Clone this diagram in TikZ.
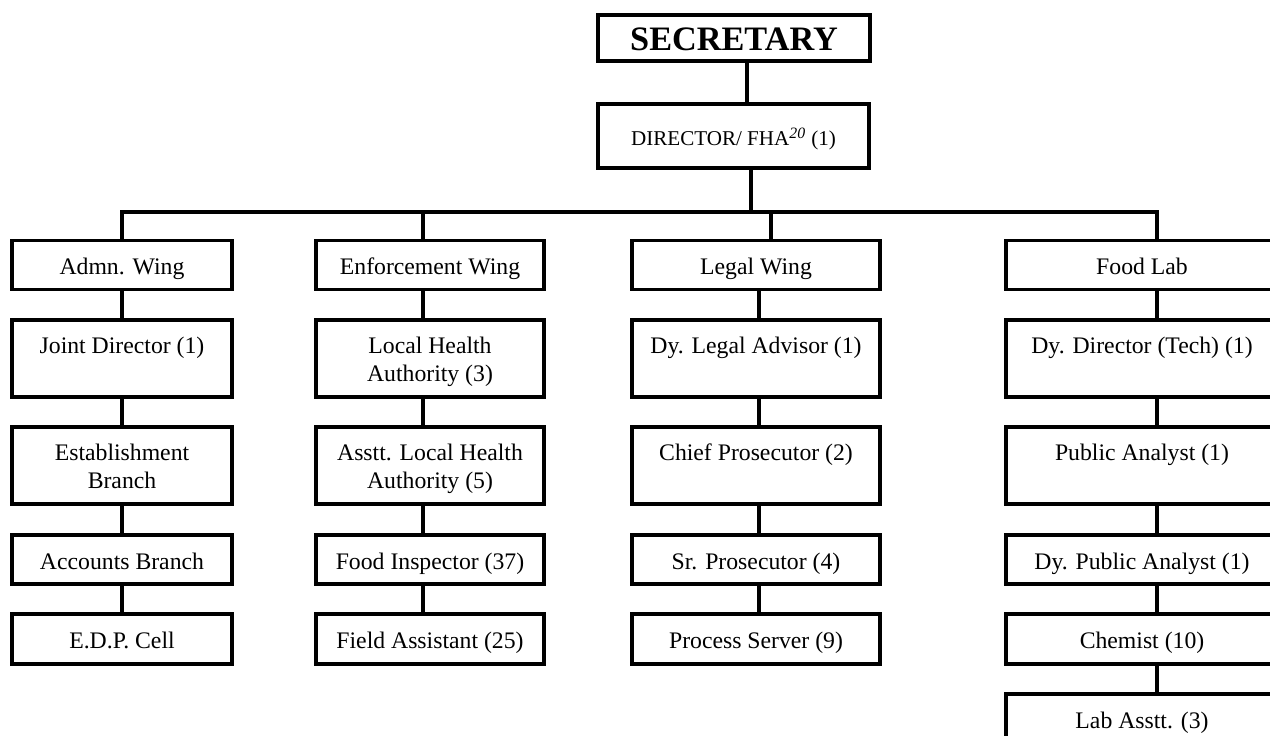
\documentclass[tikz,border=0pt]{standalone}
\usepackage{fontspec}
\setmainfont{Liberation Serif}
\begin{document}
\begin{tikzpicture}[x=0.02cm,y=-0.02cm,
  orgbox/.style={draw=black, line width=2.1pt, inner sep=0pt, align=center,
    font=\fontsize{13.5}{16}\selectfont,
    execute at begin node={\rule{0pt}{14.5pt}},
    execute at end node={\rule[-3.3pt]{0pt}{3.3pt}}},
  link/.style={line width=1.9pt},
  wa/.style={minimum width=4.4cm},
  wb/.style={minimum width=4.56cm},
  wc/.style={minimum width=4.96cm},
  wd/.style={minimum width=5.44cm},
  hs/.style={minimum height=0.98cm},
  ht/.style={minimum height=1.54cm,
    execute at begin node={\rule{0pt}{30pt}}}]
\useasboundingbox (0,0) rectangle (1270,736);

% top of the hierarchy
\node[orgbox, minimum width=5.44cm, minimum height=0.92cm,
  font=\bfseries\fontsize{19.5}{22}\selectfont,
  execute at begin node={\rule{0pt}{17pt}},
  execute at end node={\rule[-2.4pt]{0pt}{2.4pt}}] (sec) at (734,38) {SECRETARY};
\node[orgbox, minimum width=5.42cm, minimum height=1.28cm,
  font=\fontsize{12}{14}\selectfont,
  execute at begin node={\rule{0pt}{13.8pt}},
  execute at end node={\rule[-3pt]{0pt}{3pt}}] (dir) at (733.5,136)
  {DIRECTOR/ FHA\textsuperscript{\itshape\fontsize{9}{9}\selectfont 20} (1)};

% Admn. Wing column
\node[orgbox, wa, hs] (a1) at (122,265) {Admn. Wing};
\node[orgbox, wa, ht] (a2) at (122,358.5) {Joint Director (1)\\\mbox{}};
\node[orgbox, wa, ht] (a3) at (122,465.5) {Establishment\\Branch};
\node[orgbox, wa, hs] (a4) at (122,559.5) {Accounts Branch};
\node[orgbox, wa, minimum height=1cm] (a5) at (122,639) {E.D.P. Cell};

% Enforcement Wing column
\node[orgbox, wb, hs] (b1) at (430,265) {Enforcement Wing};
\node[orgbox, wb, ht] (b2) at (430,358.5) {Local Health\\Authority (3)};
\node[orgbox, wb, ht] (b3) at (430,465.5) {Asstt. Local Health\\Authority (5)};
\node[orgbox, wb, hs] (b4) at (430,559.5) {Food Inspector (37)};
\node[orgbox, wb, minimum height=1cm] (b5) at (430,639) {Field Assistant (25)};

% Legal Wing column
\node[orgbox, wc, hs] (c1) at (756,265) {Legal Wing};
\node[orgbox, wc, ht] (c2) at (756,358.5) {Dy. Legal Advisor (1)\\\mbox{}};
\node[orgbox, wc, ht] (c3) at (756,465.5) {Chief Prosecutor (2)\\\mbox{}};
\node[orgbox, wc, hs] (c4) at (756,559.5) {Sr. Prosecutor (4)};
\node[orgbox, wc, minimum height=1cm] (c5) at (756,639) {Process Server (9)};

% Food Lab column
\node[orgbox, wd, hs] (d1) at (1142,265) {Food Lab};
\node[orgbox, wd, ht] (d2) at (1142,358.5) {Dy. Director (Tech) (1)\\\mbox{}};
\node[orgbox, wd, ht] (d3) at (1142,465.5) {Public Analyst (1)\\\mbox{}};
\node[orgbox, wd, hs] (d4) at (1142,559.5) {Dy. Public Analyst (1)};
\node[orgbox, wd, minimum height=1cm] (d5) at (1142,639) {Chemist (10)};
\node[orgbox, wd, minimum height=1cm] (d6) at (1142,719) {Lab Asstt. (3)};

% connector positions
\coordinate (xs) at (747,0);
\coordinate (xd) at (751,0);
\coordinate (bus) at (0,212);
\coordinate (xa) at (122,0);
\coordinate (xb) at (423,0);
\coordinate (xc) at (759,0);
\coordinate (xct) at (771,0);
\coordinate (xf) at (1157,0);

\draw[link] (sec.south -| xs) -- (dir.north -| xs);
\draw[link] (dir.south -| xd) -- (bus -| xd);
\draw[link] (a1.north) -- (a1.north |- bus) -- (bus -| xf) -- (d1.north -| xf);
\draw[link] (b1.north -| xb) -- (bus -| xb);
\draw[link] (c1.north -| xct) -- (bus -| xct);

\foreach \u/\v in {a1/a2,a2/a3,a3/a4,a4/a5}
  \draw[link] (\u.south -| xa) -- (\v.north -| xa);
\foreach \u/\v in {b1/b2,b2/b3,b3/b4,b4/b5}
  \draw[link] (\u.south -| xb) -- (\v.north -| xb);
\foreach \u/\v in {c1/c2,c2/c3,c3/c4,c4/c5}
  \draw[link] (\u.south -| xc) -- (\v.north -| xc);
\foreach \u/\v in {d1/d2,d2/d3,d3/d4,d4/d5,d5/d6}
  \draw[link] (\u.south -| xf) -- (\v.north -| xf);
\end{tikzpicture}
\end{document}
